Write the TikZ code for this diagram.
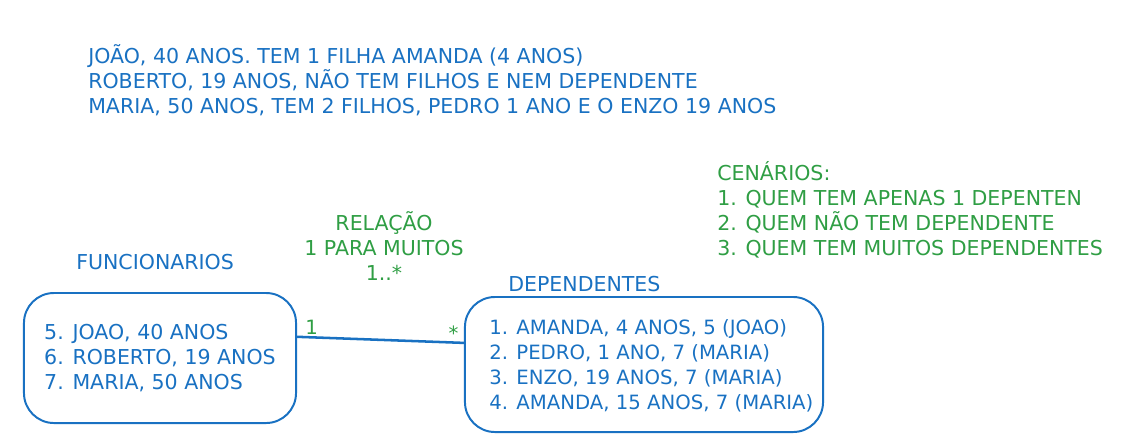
\documentclass[tikz,border=0pt]{standalone}
\usepackage{fontspec}
\setmainfont{DejaVu Sans}
\usetikzlibrary{%
  positioning%
}
\definecolor{penblue}{HTML}{1971C2}
\definecolor{pengreen}{HTML}{2F9E44}

\begin{document}
\begin{tikzpicture}[
      x=0.025cm, y=-0.025cm,
      every node/.style={font=\fontsize{14.6}{17.8}\selectfont, inner sep=0pt},
      note/.style={text=#1, anchor=west, align=left},
      table/.style={
        draw=penblue,
        line width=1.4pt,
        rounded corners=0.75cm,
        text=penblue,
        align=left,
        minimum width=#1
      },
      relation/.style={
        draw=penblue,
        line width=1.8pt
      },
      mult/.style={text=pengreen, font=\fontsize{14}{16}\selectfont}
    ]
    \useasboundingbox (0,0) rectangle (1132,443);

    % notes
    \node[note=penblue] (Pessoas) at (88,80)
      {JOÃO, 40 ANOS. TEM 1 FILHA AMANDA (4 ANOS)\\
      ROBERTO, 19 ANOS, NÃO TEM FILHOS E NEM DEPENDENTE\\
      MARIA, 50 ANOS, TEM 2 FILHOS, PEDRO 1 ANO E O ENZO 19 ANOS};

    \node[note=pengreen] (Cenarios) at (717,209.5)
      {CENÁRIOS:\\
      1. QUEM TEM APENAS 1 DEPENTEN\\
      2. QUEM NÃO TEM DEPENDENTE\\
      3. QUEM TEM MUITOS DEPENDENTES};

    \node[text=pengreen, align=center] (Relacao) at (384,246)
      {RELAÇÃO\\
      1 PARA MUITOS\\
      1..*};

    % tables
    \node[table=6.8cm, minimum height=3.25cm]
      (Funcionarios) at (160,358)
      {5. JOAO, 40 ANOS\\
      6. ROBERTO, 19 ANOS\\
      7. MARIA, 50 ANOS};

    \node[table=8.95cm, minimum height=3.375cm]
      (Dependentes) at (644,364.5) {};
    \node[note=penblue, font=\fontsize{14}{17.8}\selectfont] (DepLista) at (489,365.5)
      {1. AMANDA, 4 ANOS, 5 (JOAO)\\
      2. PEDRO, 1 ANO, 7 (MARIA)\\
      3. ENZO, 19 ANOS, 7 (MARIA)\\
      4. AMANDA, 15 ANOS, 7 (MARIA)};

    \node[note=penblue] (FuncTitle) at (76,262) {FUNCIONARIOS};
    \node[note=penblue] (DepTitle) at (508,284) {DEPENDENTES};

    \draw[relation] ([yshift=0.53cm]Funcionarios.east)
      -- node[mult, pos=0, anchor=south west, xshift=5pt, yshift=1pt] {1}
         node[mult, pos=1, anchor=south east, xshift=-3pt, yshift=1pt] {*}
      ([yshift=0.54cm]Dependentes.west);
  \end{tikzpicture}
\end{document}
